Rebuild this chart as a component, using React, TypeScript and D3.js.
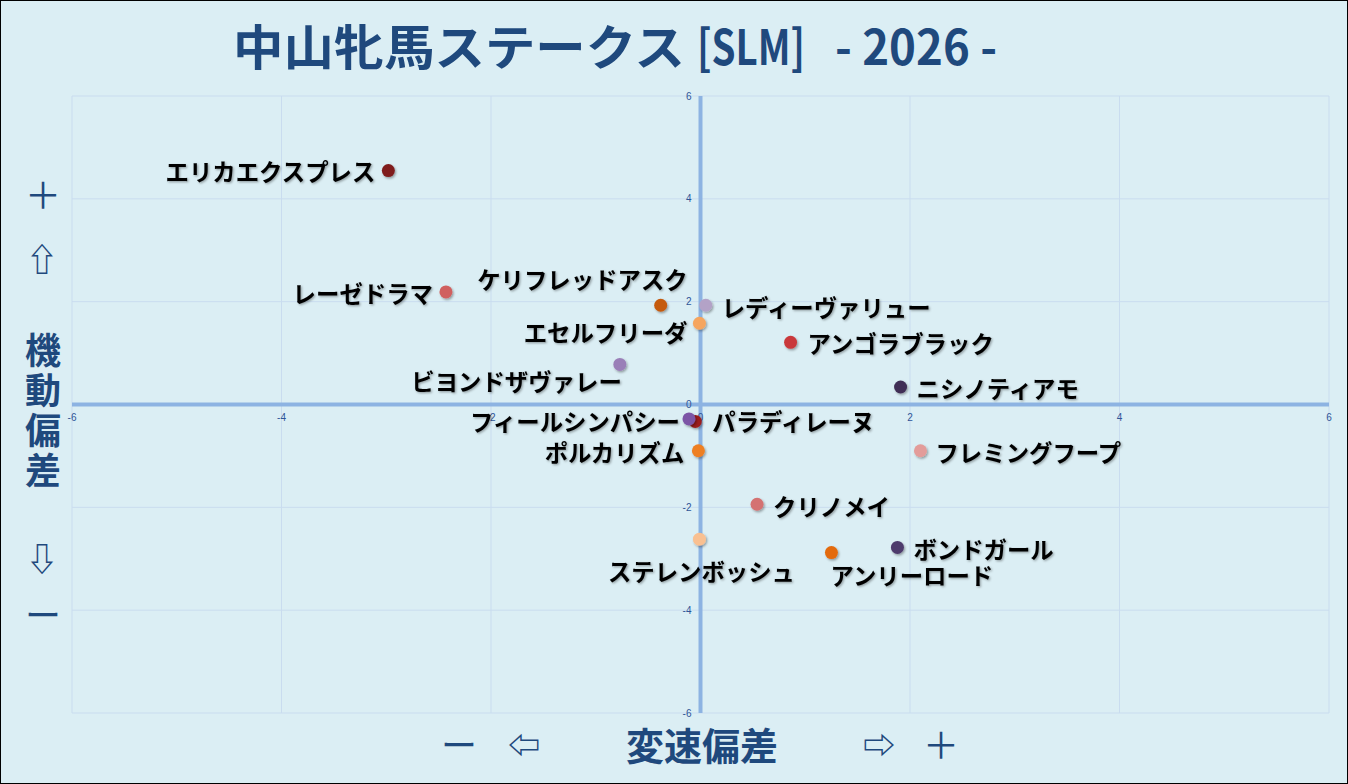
import React from "react";
import * as d3 from "d3";

const horseNames = [
  "エリカエクスプレス",
  "レーゼドラマ",
  "ケリフレッドアスク",
  "レディーヴァリュー",
  "エセルフリーダ",
  "ビヨンドザヴァレー",
  "アンゴラブラック",
  "ニシノティアモ",
  "パラディレーヌ",
  "フィールシンパシー",
  "ポルカリズム",
  "フレミングフープ",
  "クリノメイ",
  "ボンドガール",
  "アンリーロード",
  "ステレンボッシュ",
];
// 変速偏差 (x)
const speedDev = [-2.98, -2.43, -0.38, 0.05, -0.01, -0.77, 0.86, 1.91, -0.05, -0.11, -0.02, 2.1, 0.54, 1.88, 1.25, -0.01];
// 機動偏差 (y)
const mobilityDev = [4.55, 2.19, 1.93, 1.93, 1.58, 0.78, 1.21, 0.34, -0.33, -0.28, -0.9, -0.9, -1.94, -2.78, -2.88, -2.62];
const pointColors = [
  "#7f1f1f", "#d0605f", "#c55a11", "#b3a2c7", "#f5a55e", "#9a7fb8", "#c9393a", "#3f2f55",
  "#9c1f1f", "#7c54a6", "#ee7f22", "#e39c9a", "#d47272", "#4e3a6c", "#e36a0a", "#f9c091",
];
// label layout: [anchor, dx, dy]
const labelLayout: [string, number, number][] = [
  ["end", -13, 0], ["end", -13, 1], ["end", 27, -26], ["start", 16, 2],
  ["end", -12, 9], ["end", 2, 17], ["start", 17, 1], ["start", 16, 1],
  ["start", 17, 0], ["end", -9, 2], ["end", -14, 1], ["start", 15, 1],
  ["start", 16, 2], ["start", 16, 2], ["start", -1, 22], ["middle", 2, 32],
];
const ticks = [-6, -4, -2, 0, 2, 4, 6];
const titleMain = "中山牝馬ステークス";
const titleCode = "[SLM]";
const titleYear = "- 2026 -";
const yAxisTitle = ["機", "動", "偏", "差"];
const xAxisTitle = "変速偏差";

const W = 1348, H = 784;
const NAVY = "#1f497d";

export default function App() {
  const x = d3.scaleLinear().domain([-6, 6]).range([72, 1329]);
  const y = d3.scaleLinear().domain([-6, 6]).range([713, 96]);
  const labelFont = "'Noto Sans CJK JP', sans-serif";

  return (
    <div style={{ position: "absolute", left: 0, top: 0 }}>
      <svg width={W} height={H} style={{ display: "block" }}>
        <defs>
          <filter id="tshadow" x="-5%" y="-20%" width="110%" height="150%">
            <feDropShadow dx="1.2" dy="1.2" stdDeviation="0.8" floodColor="#000" floodOpacity="0.35" />
          </filter>
          <filter id="mshadow" x="-50%" y="-50%" width="200%" height="200%">
            <feDropShadow dx="1.2" dy="1.5" stdDeviation="1.2" floodColor="#000" floodOpacity="0.35" />
          </filter>
        </defs>
        <rect x={0.5} y={0.5} width={W - 1} height={H - 1} fill="#dbeef4" stroke="#000" strokeWidth={1} />

        {/* title */}
        <text x={233} y={65} fill={NAVY} fontFamily={labelFont} fontWeight={700} fontSize={48}>
          <tspan textLength={452} lengthAdjust="spacingAndGlyphs">{titleMain}</tspan>
          <tspan x={697} textLength={108} lengthAdjust="spacingAndGlyphs">{titleCode}</tspan>
          <tspan x={835} textLength={162} lengthAdjust="spacingAndGlyphs">{titleYear}</tspan>
        </text>

        {/* grid */}
        {ticks.map((t) => (
          <line key={"gx" + t} x1={x(t)} x2={x(t)} y1={y(6)} y2={y(-6)} stroke="#c9dcef" strokeWidth={1} />
        ))}
        {ticks.map((t) => (
          <line key={"gy" + t} x1={x(-6)} x2={x(6)} y1={y(t)} y2={y(t)} stroke="#c9dcef" strokeWidth={1} />
        ))}

        {/* axes */}
        <line x1={x(-6)} x2={x(6)} y1={y(0)} y2={y(0)} stroke="#8db3e2" strokeWidth={4} />
        <line x1={x(0)} x2={x(0)} y1={y(6)} y2={y(-6)} stroke="#8db3e2" strokeWidth={4} />

        {/* tick labels */}
        {ticks.map((t) => (
          <text key={"tx" + t} x={x(t)} y={y(0) + 16} textAnchor="middle" fontSize={10}
            fontFamily="'Liberation Sans', sans-serif" fill="#2f5597">{t}</text>
        ))}
        {ticks.map((t) => (
          <text key={"ty" + t} x={x(0) - 9} y={y(t)} dy="0.35em" textAnchor="end" fontSize={10}
            fontFamily="'Liberation Sans', sans-serif" fill="#2f5597">{t}</text>
        ))}

        {/* points */}
        {horseNames.map((n, i) => (
          <circle key={"p" + n} cx={x(speedDev[i])} cy={y(mobilityDev[i])} r={6.5}
            fill={pointColors[i]} filter="url(#mshadow)" />
        ))}
        {/* labels */}
        {horseNames.map((n, i) => (
          <text key={"l" + n} x={x(speedDev[i]) + labelLayout[i][1]} y={y(mobilityDev[i]) + labelLayout[i][2]}
            dominantBaseline="central" textAnchor={labelLayout[i][0]} fontSize={23.4}
            fontFamily={labelFont} fontWeight={700} fill="#000" filter="url(#tshadow)">{n}</text>
        ))}

        {/* y axis title */}
        <g fill={NAVY} fontFamily={labelFont} textAnchor="middle">
          <text x={43} y={193} dominantBaseline="central" fontSize={36} fontWeight={400}>＋</text>
          <text x={42} y={257} dominantBaseline="central" fontSize={32} fontWeight={700}>⇧</text>
          {yAxisTitle.map((c, i) => (
            <text key={c} x={43} y={348 + i * 40} dominantBaseline="central" fontSize={36} fontWeight={700}>{c}</text>
          ))}
          <text x={42} y={557} dominantBaseline="central" fontSize={32} fontWeight={700}>⇩</text>
          <text x={43} y={613} dominantBaseline="central" fontSize={36} fontWeight={400}>ー</text>
        </g>

        {/* x axis title */}
        <g fill={NAVY} fontFamily={labelFont} textAnchor="middle">
          <text x={459} y={743} dominantBaseline="central" fontSize={36} fontWeight={400}>ー</text>
          <text x={524} y={743} dominantBaseline="central" fontSize={32} fontWeight={700}>⇦</text>
          <text x={702} y={743} dominantBaseline="central" fontSize={38} fontWeight={700}>{xAxisTitle}</text>
          <text x={879} y={743} dominantBaseline="central" fontSize={32} fontWeight={700}>⇨</text>
          <text x={941} y={743} dominantBaseline="central" fontSize={36} fontWeight={400}>＋</text>
        </g>
      </svg>
    </div>
  );
}
